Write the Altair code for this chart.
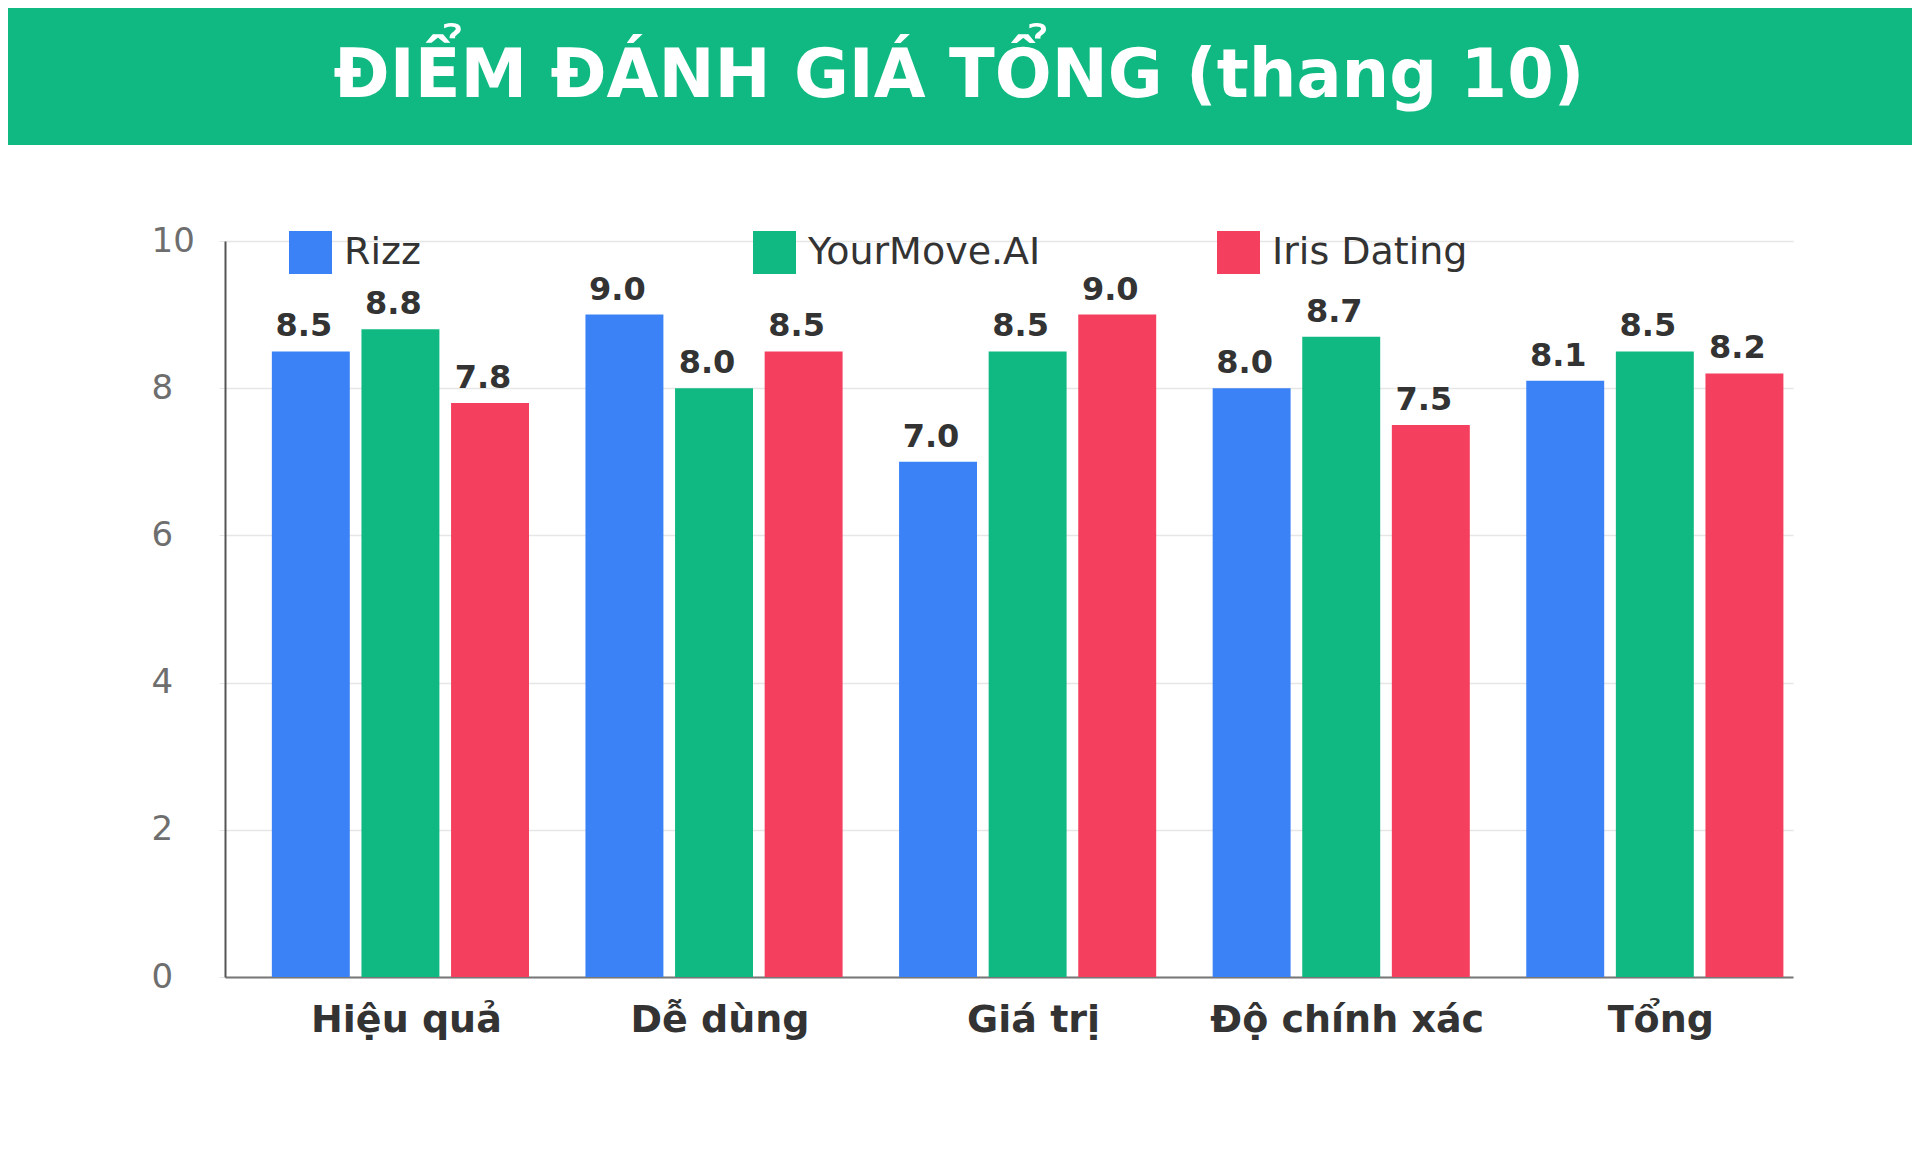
import altair as alt
import pandas as pd

title_text = "ĐIỂM ĐÁNH GIÁ TỔNG (thang 10)"
categories = ["Hiệu quả", "Dễ dùng", "Giá trị", "Độ chính xác", "Tổng"]
apps = ["Rizz", "YourMove.AI", "Iris Dating"]
colors = ["#3b82f6", "#10b981", "#f43f5e"]

rizz = [8.5, 9.0, 7.0, 8.0, 8.1]
yourmove = [8.8, 8.0, 8.5, 8.7, 8.5]
iris = [7.8, 8.5, 9.0, 7.5, 8.2]

rows = []
for app, vals in zip(apps, [rizz, yourmove, iris]):
    for cat, v in zip(categories, vals):
        rows.append({"cat": cat, "app": app, "score": v})
df = pd.DataFrame(rows)

x = alt.X("cat:N", sort=categories, title=None,
          scale=alt.Scale(paddingInner=0.18, paddingOuter=0.09, align=0.83),
          axis=alt.Axis(labelAngle=0, labelFontSize=38, labelFontWeight="bold",
                        labelColor="#333333", labelPadding=24, labelOffset=6,
                        labelLimit=600, ticks=False,
                        domainColor="#777777", domainWidth=2, grid=False))
x_off = alt.XOffset("app:N", sort=apps,
                    scale=alt.Scale(paddingInner=0.13, paddingOuter=0))
y = alt.Y("score:Q", title=None,
          scale=alt.Scale(domain=[0, 10], nice=False),
          axis=alt.Axis(values=[0, 2, 4, 6, 8, 10], format="d", labelFontSize=34,
                        labelColor="#6e6e6e", labelAlign="left", labelPadding=68,
                        tickSize=6, tickColor="#e6e6e6", domainColor="#555555",
                        domainWidth=2, gridColor="#e6e6e6", gridWidth=1.5))

bars = alt.Chart(df).mark_bar().encode(
    x=x, xOffset=x_off, y=y,
    color=alt.Color("app:N", title=None,
                    scale=alt.Scale(domain=apps, range=colors),
                    legend=alt.Legend(orient="none", legendX=64, legendY=-10,
                                      direction="horizontal", columns=3,
                                      gridAlign="all", columnPadding=176,
                                      symbolType="square", symbolSize=1849,
                                      symbolStrokeWidth=0, labelFontSize=38,
                                      labelColor="#333333", labelOffset=12,
                                      padding=0, labelLimit=400))
)

labels = alt.Chart(df).mark_text(baseline="bottom", dy=-8, dx=-7, fontSize=32,
                                 fontWeight="bold", color="#333333").encode(
    x=alt.X("cat:N", sort=categories), xOffset=x_off,
    y="score:Q", text=alt.Text("score:Q", format=".1f")
)

header = alt.Chart(pd.DataFrame({"a": [0]})).mark_rect(color="#10b981").encode(
    x=alt.value(-217), x2=alt.value(1687), y=alt.value(-233), y2=alt.value(-96)
)

title = alt.Chart(pd.DataFrame({"t": [title_text]})).mark_text(
    fontSize=67, fontWeight="bold", color="white", baseline="middle",
    align="center").encode(
    text="t:N", x=alt.value(734), y=alt.value(-164)
)

chart = alt.layer(header, bars, labels, title).properties(
    width=1568, height=736,
    autosize=alt.AutoSizeParams(type="none"),
    padding={"left": 217, "top": 233, "right": 119, "bottom": 150},
    background="white"
).configure(font="DejaVu Sans").configure_view(stroke=None)

chart.save("out.html", embed_options={"renderer": "svg", "actions": False})
